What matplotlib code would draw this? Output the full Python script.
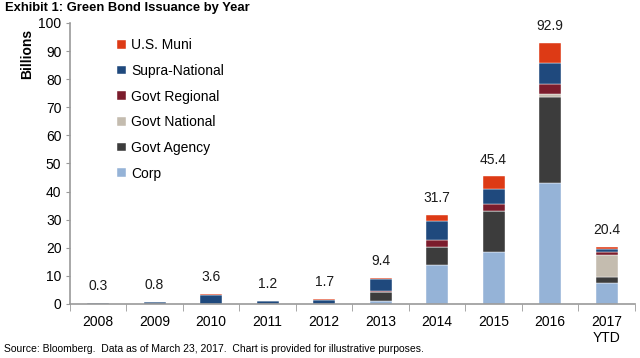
import numpy as np
import matplotlib.pyplot as plt
from matplotlib.ticker import FixedLocator

plt.rcParams['font.family'] = ['Liberation Sans', 'DejaVu Sans']

years = ['2008', '2009', '2010', '2011', '2012', '2013', '2014', '2015', '2016', '2017\nYTD']
totals = [0.3, 0.8, 3.6, 1.2, 1.7, 9.4, 31.7, 45.4, 92.9, 20.4]

corp = [0.0, 0.0, 0.0, 0.0, 0.0, 1.2, 14.0, 18.6, 42.9, 7.6]
govt_agency = [0.0, 0.0, 0.0, 0.0, 0.0, 3.1, 6.4, 14.6, 30.9, 1.9]
govt_national = [0.0, 0.0, 0.0, 0.0, 0.0, 0.0, 0.0, 0.0, 0.9, 8.0]
govt_regional = [0.0, 0.0, 0.0, 0.0, 0.0, 0.4, 2.3, 2.4, 3.5, 1.0]
supra_national = [0.3, 0.8, 3.2, 0.9, 1.3, 4.2, 6.8, 5.3, 7.7, 0.9]
us_muni = [0.0, 0.0, 0.4, 0.3, 0.4, 0.5, 2.2, 4.5, 7.0, 1.0]

series = [
    ('Corp', corp, '#95b3d7'),
    ('Govt Agency', govt_agency, '#3c3c3c'),
    ('Govt National', govt_national, '#c4bcaf'),
    ('Govt Regional', govt_regional, '#7b1c2c'),
    ('Supra-National', supra_national, '#1f497d'),
    ('U.S. Muni', us_muni, '#dd3a15'),
]

fig = plt.figure(figsize=(6.4, 3.58), dpi=100)
ax = fig.add_axes([0.109, 0.151, 0.883, 0.785])

x = np.arange(len(years))
bottom = np.zeros(len(years))
handles = []
for name, vals, color in series:
    vals = np.array(vals)
    b = ax.bar(x, vals, width=0.39, bottom=bottom, color=color, label=name,
               edgecolor='white', linewidth=0.3)
    handles.append(b)
    bottom += vals

# total labels above each stack
for xi, t in zip(x, totals):
    ax.annotate(f'{t:.1f}', (xi, t), xytext=(0, 7), textcoords='offset points',
                ha='center', va='bottom', fontsize=10, color='#1a1a1a')

ax.set_xlim(-0.5, len(years) - 0.5)
ax.set_ylim(0, 100)
ax.set_yticks(np.arange(0, 101, 10))
ax.set_xticks(x)
ax.set_xticklabels(years)
ax.xaxis.set_minor_locator(FixedLocator(np.arange(-0.5, len(years), 1)))
ax.tick_params(axis='x', which='major', length=0, pad=8, labelsize=10)
ax.tick_params(axis='x', which='minor', length=5, color='#999999', direction='out')
ax.tick_params(axis='y', length=3, color='#999999', labelsize=10, pad=3)

for s in ['top', 'right']:
    ax.spines[s].set_visible(False)
ax.spines['left'].set_color('#999999')
ax.spines['bottom'].set_color('#999999')
ax.spines['left'].set_linewidth(1.2)
ax.spines['bottom'].set_linewidth(1.2)

leg = ax.legend(handles[::-1], [s[0] for s in series][::-1],
                loc='upper left', bbox_to_anchor=(0.062, 0.99), frameon=False,
                fontsize=10, handlelength=0.6, handleheight=0.6,
                handletextpad=0.4, labelspacing=0.84)

fig.text(0.008, 0.995, 'Exhibit 1: Green Bond Issuance by Year', fontsize=9.4,
         fontweight='bold', ha='left', va='top')
fig.text(0.042, 0.848, 'Billions', fontsize=10, fontweight='bold',
         rotation=90, ha='center', va='center')
fig.text(0.006, 0.012, 'Source: Bloomberg.  Data as of March 23, 2017.  Chart is provided for illustrative purposes.',
         fontsize=7.5, ha='left', va='bottom')

fig.savefig('out.png', dpi=100)
